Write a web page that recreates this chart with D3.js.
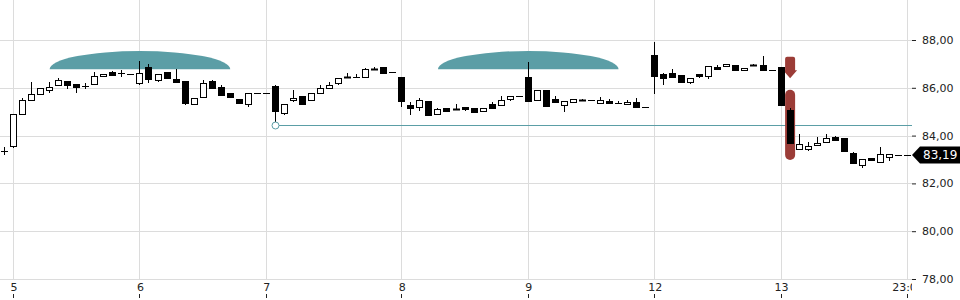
<!DOCTYPE html>
<html>
<head>
<meta charset="utf-8">
<script src="https://cdn.jsdelivr.net/npm/d3@7"></script>
<style>
html,body{margin:0;padding:0;background:#fff;}
svg{display:block;font-family:"DejaVu Sans",sans-serif;}
</style>
</head>
<body>
<svg id="chart" width="960" height="300"></svg>
<script>
// ---- data ----
const opens  = [83.35,83.55,84.90,85.49,85.74,85.89,86.11,86.28,86.17,86.08,86.15,86.50,86.65,86.60,86.56,86.20,86.88,86.32,86.65,86.36,86.29,85.33,85.61,86.29,86.03,85.78,85.53,85.32,85.79,85.79,
                86.08,84.95,85.47,85.65,85.50,85.79,85.99,86.18,86.46,86.45,86.46,86.79,86.86,86.65,86.46,85.28,85.21,85.46,84.89,85.15,85.10,85.20,85.15,85.05,85.32,85.29,85.55,85.65,86.46,85.51,
                85.90,85.53,85.28,85.40,85.50,85.48,85.36,85.45,85.38,85.32,85.42,85.20,87.38,86.56,86.60,86.54,86.25,86.58,86.51,86.86,86.90,86.97,86.74,86.97,86.97,86.74,86.88,85.08,83.45,83.45,
                83.60,83.74,83.94,83.88,83.28,82.79,83.07,82.90,83.10,83.19,83.19];
const highs  = [83.53,84.90,85.57,86.26,85.99,86.24,86.43,86.28,86.17,86.20,86.67,86.58,86.72,86.75,86.56,87.13,87.00,86.58,86.65,86.78,86.29,85.57,86.32,86.33,86.11,85.78,85.53,85.79,85.79,85.79,
                86.13,85.33,85.90,85.65,85.79,86.11,86.24,86.43,86.61,86.58,86.83,86.88,86.86,86.65,86.46,85.39,85.57,85.46,85.17,85.15,85.33,85.20,85.15,85.17,85.39,85.64,85.65,85.65,87.08,85.90,
                85.90,85.67,85.45,85.53,85.55,85.50,85.60,85.53,85.43,85.50,85.58,85.20,87.92,86.60,86.79,86.54,86.40,86.58,86.92,86.96,87.00,86.97,86.83,87.00,87.33,86.74,86.88,85.17,84.07,83.74,
                83.94,84.07,83.99,83.88,83.33,83.03,83.07,83.53,83.24,83.19,83.19];
const lows   = [83.17,83.50,84.90,85.49,85.74,85.78,86.11,85.95,85.78,85.97,86.15,86.50,86.49,86.45,86.56,86.10,86.20,86.26,86.43,86.26,85.26,85.33,85.61,86.01,85.70,85.63,85.35,85.18,85.79,85.79,
                84.43,84.85,85.39,85.32,85.50,85.79,85.95,86.11,86.39,86.44,86.46,86.74,86.61,86.65,85.20,84.85,85.01,84.85,84.89,84.97,85.09,85.05,84.93,85.05,85.14,85.29,85.45,85.65,85.43,85.46,
                85.25,85.39,84.97,85.40,85.43,85.47,85.36,85.36,85.33,85.32,85.18,85.20,85.72,86.10,86.47,86.26,86.17,86.42,86.38,86.79,86.86,86.76,86.74,86.90,86.72,86.74,85.30,83.69,83.45,83.36,
                83.60,83.74,83.82,83.30,82.86,82.65,83.00,82.85,82.95,83.19,83.19];
const closes = [83.35,84.90,85.50,85.74,85.99,86.03,86.33,86.11,86.05,86.08,86.49,86.58,86.54,86.60,86.56,86.61,86.36,86.58,86.43,86.26,85.35,85.57,86.20,86.01,85.70,85.63,85.35,85.79,85.79,85.79,
                85.05,85.33,85.58,85.32,85.79,85.99,86.11,86.43,86.39,86.44,86.79,86.74,86.61,86.65,85.43,85.15,85.51,84.85,85.11,85.05,85.09,85.12,85.00,85.17,85.14,85.50,85.65,85.65,85.43,85.90,
                85.25,85.39,85.45,85.53,85.43,85.47,85.51,85.36,85.38,85.42,85.18,85.20,86.51,86.39,86.47,86.26,86.40,86.51,86.92,86.79,87.00,86.76,86.83,86.90,86.76,86.74,85.30,83.69,83.63,83.58,
                83.70,83.92,83.82,83.35,82.86,83.03,83.00,83.21,83.24,83.19,83.19];
const dayLabels  = ["5","6","7","8","9","12","13","23:00"];
const dayIndex   = [1,15,29,44,58,72,86,100];
const priceTicks = [78,80,82,84,86,88];
const lastPrice  = 83.19;
const eventDomes = [15,58];          // candle index at centre of teal domes
const domeLow = 86.78, domeHigh = 87.54;
const supportIdx = 30, supportPrice = 84.43;
const alertIdx = 87, alertHigh = 85.92, alertLow = 82.98;
const arrowHigh = 87.3, arrowLow = 86.4;

// ---- scales ----
const svg = d3.select("#chart");
const plotRight = 912;
const x = d3.scaleLinear().domain([0,100]).range([4,907]);
const y = d3.scaleLinear().domain([78,88]).range([279,40]);
const fmt = v => d3.format(".2f")(v).replace(".", ",");
const teal = "#5b9ea6", red = "#9b3c37", grid = "#dcdcdc";
const cx = i => Math.round(x(i));

svg.append("defs").append("clipPath").attr("id","plotclip")
  .append("rect").attr("x",0).attr("y",0).attr("width",plotRight).attr("height",300);

// grid
const g = svg.append("g");
g.selectAll(".hg").data(priceTicks).join("line")
  .attr("x1",0).attr("x2",plotRight)
  .attr("y1",d=>Math.round(y(d))+0.5).attr("y2",d=>Math.round(y(d))+0.5)
  .attr("stroke",grid);
g.selectAll(".vg").data(dayIndex).join("line")
  .attr("x1",d=>cx(d)+0.5).attr("x2",d=>cx(d)+0.5)
  .attr("y1",0).attr("y2",Math.round(y(78)))
  .attr("stroke",grid);

// y axis (right)
const yAxis = d3.axisRight(y).tickValues(priceTicks).tickFormat(fmt).tickSize(4).tickPadding(6);
const ya = svg.append("g").attr("transform",`translate(${plotRight},0)`).call(yAxis);
ya.select(".domain").remove();
ya.selectAll(".tick line").attr("stroke","#222");
ya.selectAll("text").attr("font-size",11).attr("fill","#222").attr("font-family","DejaVu Sans");

// x axis labels (clipped at plot edge)
const xa = svg.append("g").attr("clip-path","url(#plotclip)");
const xAxis = d3.axisBottom(x).tickValues(dayIndex).tickFormat((d,i)=>dayLabels[i]).tickSize(0).tickPadding(0);
const xg = xa.append("g").attr("transform",`translate(0.5,${283})`).call(xAxis);
xg.select(".domain").remove();
xg.selectAll("text").attr("font-size",11).attr("fill","#222").attr("dy","0.71em").attr("font-family","DejaVu Sans");
xa.selectAll(".xt").data(dayIndex).join("line")
  .attr("x1",d=>cx(d)+0.5).attr("x2",d=>cx(d)+0.5).attr("y1",294).attr("y2",298).attr("stroke","#222");

// teal domes
const domeBottom = y(domeLow), domeTop = y(domeHigh);
svg.selectAll(".dome").data(eventDomes).join("path")
  .attr("d", d => {
    const c = x(d) + 0.5, rx = x(d+10) - x(d);
    const ry = domeBottom - domeTop;
    return `M${c-rx},${domeBottom} A${rx},${ry} 0 0 1 ${c+rx},${domeBottom} Z`;
  })
  .attr("fill",teal);

// support line with circle
const sy = Math.round(y(supportPrice))+0.5;
svg.append("line").attr("x1",cx(supportIdx)).attr("x2",plotRight).attr("y1",sy).attr("y2",sy)
  .attr("stroke",teal).attr("stroke-width",1);

// red alert marker
const ax = x(alertIdx)+0.5;
svg.append("rect").attr("x",ax-5).attr("y",y(alertHigh)).attr("width",10)
  .attr("height",y(alertLow)-y(alertHigh)).attr("rx",5).attr("fill",red);
const at = y(arrowHigh), ab = y(arrowLow);
svg.append("path")
  .attr("d",`M${ax-5},${at+2} Q${ax-5},${at} ${ax-3},${at} L${ax+3},${at} Q${ax+5},${at} ${ax+5},${at+2} L${ax+5},${ab-8} L${ax+7},${ab-8} L${ax},${ab} L${ax-7},${ab-8} L${ax-5},${ab-8} Z`)
  .attr("fill",red);

// candles
const candles = d3.range(opens.length).map(i=>({i,o:opens[i],h:highs[i],l:lows[i],c:closes[i]}));
const cg = svg.append("g");
candles.forEach(d=>{
  const px = cx(d.i)+0.5;
  const yh = Math.round(y(d.h)), yl = Math.round(y(d.l));
  const yt = Math.round(y(Math.max(d.o,d.c))), yb = Math.round(y(Math.min(d.o,d.c)));
  if (yl > yh) cg.append("line").attr("x1",px).attr("x2",px).attr("y1",yh).attr("y2",yl).attr("stroke","#000");
  if (yb - yt < 2) {
    cg.append("line").attr("x1",px-3.5).attr("x2",px+3.5).attr("y1",yt+0.5).attr("y2",yt+0.5)
      .attr("stroke","#000").attr("stroke-width", yb-yt>=1?2:1);
  } else {
    cg.append("rect").attr("x",px-3).attr("y",yt+0.5).attr("width",6).attr("height",yb-yt)
      .attr("fill", d.c >= d.o ? "#fff" : "#000").attr("stroke","#000");
  }
});

// support circle (over candle wick)
svg.append("circle").attr("cx",cx(supportIdx)+0.5).attr("cy",sy).attr("r",3.5)
  .attr("fill","#fff").attr("stroke",teal);

// last price tag
const ly = y(lastPrice);
const tag = svg.append("g");
tag.append("path").attr("d",`M${plotRight},${ly} L${plotRight+8},${ly-8.5} L960,${ly-8.5} L960,${ly+8.5} L${plotRight+8},${ly+8.5} Z`).attr("fill","#000");
tag.append("text").attr("x",923).attr("y",ly).attr("dy","0.36em").attr("fill","#fff")
  .attr("font-size",12).attr("font-family","DejaVu Sans").text(fmt(lastPrice));
</script>
</body>
</html>
